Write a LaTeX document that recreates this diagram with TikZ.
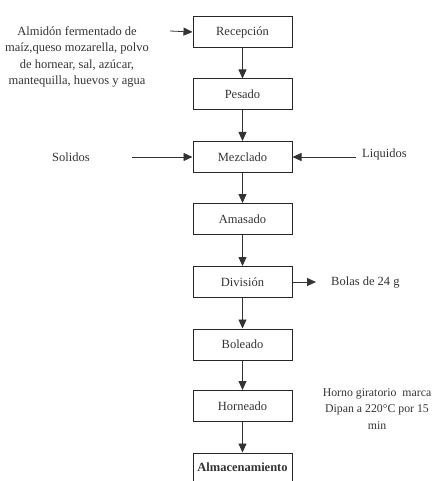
\documentclass[tikz,border=0pt]{standalone}
\usepackage{fontspec}
\setmainfont{Liberation Serif}[Ligatures=TeX]
\newfontfamily\tms{Liberation Serif}
\usetikzlibrary{arrows.meta}
\begin{document}
\begin{tikzpicture}[x=1pt,y=-1pt,
  stepbox/.style={draw=black!85,line width=1pt,minimum width=99pt,minimum height=31pt,inner sep=0pt,font=\tms\fontsize{12.5}{14}\selectfont,text=black!80},
  lbl/.style={font=\tms\fontsize{12.5}{16.5}\selectfont,text=black!80,inner sep=0pt},
  arr/.style={draw=black!80,line width=0.8pt,-{Triangle[length=9pt,width=8pt]}}]
\useasboundingbox (0,0) rectangle (435,481);
\clip (0,0) rectangle (435,481);
\node[stepbox] (rec) at (242.5,32) {Recepción};
\node[stepbox] (pes) at (242.5,94.5) {Pesado};
\node[stepbox] (mez) at (242.5,157) {Mezclado};
\node[stepbox] (ama) at (242.5,219) {Amasado};
\node[stepbox] (div) at (242.5,282) {División};
\node[stepbox] (bol) at (242.5,344.5) {Boleado};
\node[stepbox] (hor) at (242.5,406) {Horneado};
\node[stepbox,font=\tms\fontsize{12.5}{14}\selectfont\bfseries] (alm) at (242.5,468.5) {\raisebox{3pt}{Almacenamiento}};
\draw[arr] (rec) -- (pes);
\draw[arr] (pes) -- (mez);
\draw[arr] (mez) -- (ama);
\draw[arr] (ama) -- (div);
\draw[arr] (div) -- (bol);
\draw[arr] (bol) -- (hor);
\draw[arr] (hor) -- (alm);
\node[lbl,align=center] (ing) at (77,57) {Almidón fermentado de\\maíz,queso mozarella, polvo\\de hornear, sal, azúcar,\\mantequilla, huevos y agua};
\coordinate (ingend) at (170,31);
\draw[arr] (ingend) -- (rec.west);
\node[lbl] (sol) at (71,157) {Solidos};
\coordinate (solend) at (132,157);
\draw[arr] (solend) -- (mez.west);
\node[lbl,anchor=west] (liq) at (362,154) {Liquidos};
\coordinate (liqend) at (356,157);
\draw[arr] (liqend) -- (mez.east);
\node[lbl,anchor=west] (bolas) at (331,283) {Bolas de 24 g};
\coordinate (bolend) at (316,282);
\draw[arr] (div.east) -- (bolend);
\node[lbl,align=center,font=\tms\fontsize{11.8}{16.5}\selectfont] (horno) at (377,409) {Horno giratorio\ \ marca\\Dipan a 220°C por 15\\min};
\end{tikzpicture}
\end{document}
